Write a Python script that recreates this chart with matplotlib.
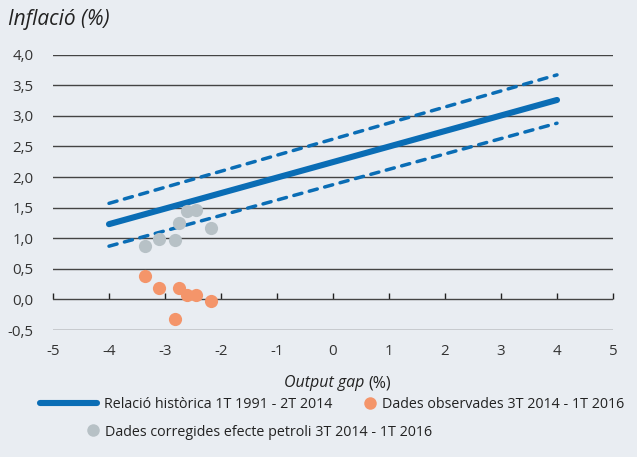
import matplotlib
matplotlib.use("Agg")
import matplotlib.pyplot as plt
from matplotlib.lines import Line2D

plt.rcParams['font.family'] = ['Open Sans', 'DejaVu Sans']

# Data
fit_x = [-4, 4]
fit_y = [1.23, 3.26]
upper_y = [1.57, 3.67]
lower_y = [0.87, 2.88]

gap_x = [-3.36, -3.10, -2.82, -2.75, -2.61, -2.44, -2.17]
observed = [0.38, 0.18, -0.32, 0.18, 0.08, 0.08, -0.02]
corrected = [0.88, 0.99, 0.97, 1.25, 1.44, 1.46, 1.17]

x_ticks = [-5, -4, -3, -2, -1, 0, 1, 2, 3, 4, 5]
y_ticks = [-0.5, 0.0, 0.5, 1.0, 1.5, 2.0, 2.5, 3.0, 3.5, 4.0]

bg = "#e9edf2"
blue = "#0a6db5"
orange = "#f4956a"
grey = "#b7c1c6"
txt = "#333333"

W, H = 637, 457
fig = plt.figure(figsize=(W / 100, H / 100), dpi=100, facecolor=bg)
ax = fig.add_axes([53 / W, 1 - 330 / H, 560 / W, 275.3 / H], facecolor=bg)

ax.set_xlim(-5, 5)
ax.set_ylim(-0.5, 4.0)
for y in y_ticks:
    ax.axhline(y, color="#444444", lw=1.0, zorder=1)

dash = (0, (2.4, 2.2))
ax.plot(fit_x, upper_y, color=blue, lw=2.5, ls=dash, dash_capstyle="round", zorder=3)
ax.plot(fit_x, lower_y, color=blue, lw=2.5, ls=dash, dash_capstyle="round", zorder=3)
ax.plot(fit_x, fit_y, color=blue, lw=4.4, solid_capstyle="round", zorder=3)
ax.plot(gap_x, corrected, "o", color=grey, ms=9.5, mec="none", zorder=4)
ax.plot(gap_x, observed, "o", color=orange, ms=9.5, mec="none", zorder=4)

for s in ax.spines.values():
    s.set_visible(False)
ax.set_xticks(x_ticks)
ax.set_xticklabels([str(v) for v in x_ticks])
ax.set_yticks(y_ticks)
ax.set_yticklabels([f"{v:.1f}".replace(".", ",") for v in y_ticks])
ax.tick_params(axis="both", length=0, labelsize=10.8, labelcolor=txt)
ax.tick_params(axis="y", pad=14)
ax.tick_params(axis="x", pad=10)

# small ticks on the zero line
sec = ax.secondary_xaxis(0.5 / 4.5)
sec.set_xticks(x_ticks)
sec.tick_params(direction="in", length=4, width=1, color="#222222", labelbottom=False)
sec.spines["bottom"].set_visible(False)

fig.text(8 / W, 1 - 20 / H, "Inflació (%)", fontsize=15, style="italic",
         color="#222222", va="center", ha="left")
fig.text(364 / W, 1 - 383 / H, "Output gap", fontsize=11.5, style="italic",
         color="#222222", va="center", ha="right")
fig.text(368 / W, 1 - 383 / H, "(%)", fontsize=11.5, color="#222222",
         va="center", ha="left")

# legend
line_h = Line2D([], [], color=blue, lw=4.4, solid_capstyle="round")
orange_h = Line2D([], [], marker="o", ls="none", color=orange, ms=9, mec="none")
grey_h = Line2D([], [], marker="o", ls="none", color=grey, ms=9, mec="none")

common = dict(frameon=False, borderpad=0, borderaxespad=0, fontsize=10.3,
              loc="center left", labelcolor="#222222")
fig.legend([line_h], ["Relació històrica 1T 1991 - 2T 2014"],
           bbox_to_anchor=(40 / W, 1 - 405 / H), handlelength=4.0,
           handletextpad=0.5, **common)
fig.legend([orange_h], ["Dades observades 3T 2014 - 1T 2016"],
           bbox_to_anchor=(363 / W, 1 - 405 / H), handlelength=1.0,
           handletextpad=0.3, **common)
fig.legend([grey_h], ["Dades corregides efecte petroli 3T 2014 - 1T 2016"],
           bbox_to_anchor=(86 / W, 1 - 432 / H), handlelength=1.0,
           handletextpad=0.3, **common)

fig.savefig("out.png", dpi=100, facecolor=bg)
